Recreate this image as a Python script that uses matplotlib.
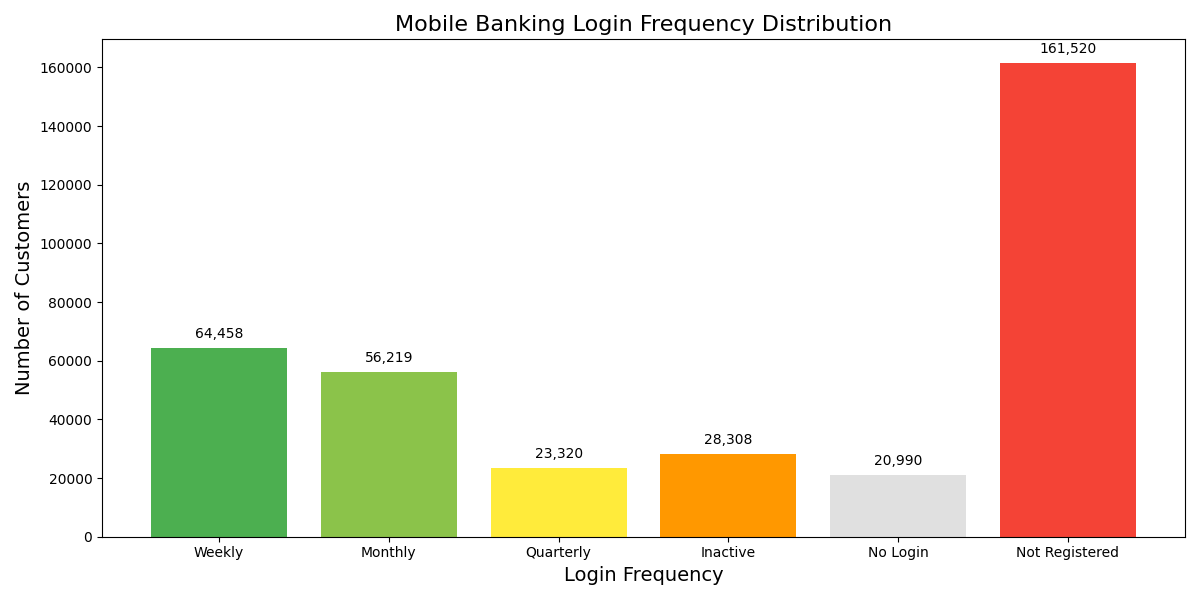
import matplotlib
matplotlib.use('Agg')
import matplotlib.pyplot as plt

categories = ["Weekly", "Monthly", "Quarterly", "Inactive", "No Login", "Not Registered"]
customers = [64458, 56219, 23320, 28308, 20990, 161520]
colors = ["#4CAF50", "#8BC34A", "#FFEB3B", "#FF9800", "#E0E0E0", "#F44336"]

fig, ax = plt.subplots(figsize=(12, 6), dpi=100)
bars = ax.bar(categories, customers, color=colors)

for bar, value in zip(bars, customers):
    ax.annotate(f"{value:,}",
                xy=(bar.get_x() + bar.get_width() / 2, bar.get_height()),
                xytext=(0, 5), textcoords="offset points",
                ha="center", va="bottom", fontsize=10)

ax.set_title("Mobile Banking Login Frequency Distribution", fontsize=16)
ax.set_xlabel("Login Frequency", fontsize=14)
ax.set_ylabel("Number of Customers", fontsize=14)

plt.tight_layout()
plt.savefig("out.png")
